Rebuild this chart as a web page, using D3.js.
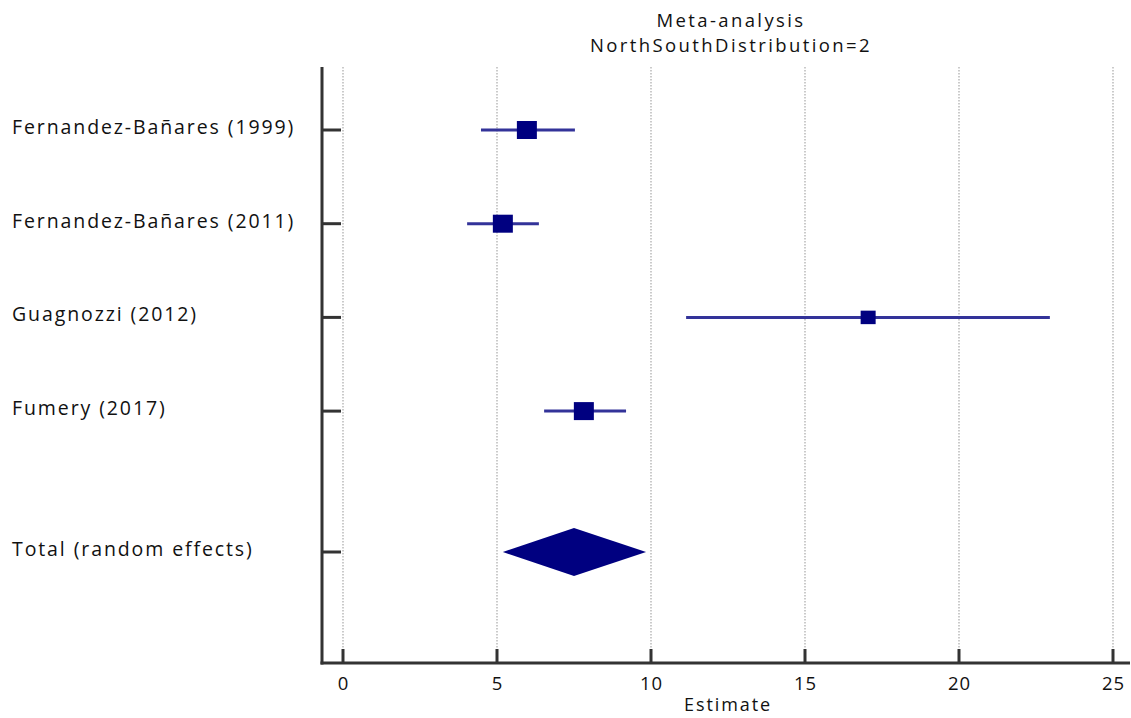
<!DOCTYPE html>
<html>
<head>
<meta charset="utf-8">
<script src="https://cdn.jsdelivr.net/npm/d3@7"></script>
<style>
  html, body { margin: 0; padding: 0; background: #fff; }
  svg { display: block; }
  text { font-family: "Open Sans", "Noto Sans", sans-serif; fill: #111; }
</style>
</head>
<body>
<svg id="chart" width="1131" height="718"></svg>
<script>
// ---- data ----
const studies = ["Fernandez-Bañares (1999)", "Fernandez-Bañares (2011)", "Guagnozzi (2012)", "Fumery (2017)"];
const estimates = [5.97, 5.19, 17.05, 7.82];
const lower = [4.48, 4.03, 11.14, 6.53];
const upper = [7.53, 6.36, 22.95, 9.19];
const weights = [1.0, 1.0, 0.75, 1.0];
const totalLabel = "Total (random effects)";
const totalEstimate = 7.50;
const totalLower = 5.19;
const totalUpper = 9.84;
const xTicks = [0, 5, 10, 15, 20, 25];
const titleLines = ["Meta-analysis", "NorthSouthDistribution=2"];
const xTitle = "Estimate";

// ---- layout ----
const svg = d3.select("#chart");
const plotLeft = 322, plotRight = 1130, plotTop = 67, plotBottom = 663;

const x = d3.scaleLinear().domain([0, 25]).range([343, 1113]);
const rows = [...studies, totalLabel];
const rowY = d => {
  const i = rows.indexOf(d);
  return i < studies.length ? 130 + i * 93.7 : 552;
};

// grid lines
svg.append("g").selectAll("line").data(xTicks).join("line")
  .attr("x1", d => x(d)).attr("x2", d => x(d))
  .attr("y1", plotTop).attr("y2", plotBottom - 2)
  .attr("stroke", "#a8a8a8").attr("stroke-width", 1.2)
  .attr("stroke-dasharray", "1.5,1.5");

// title
svg.append("g").selectAll("text").data(titleLines).join("text")
  .attr("x", 731).attr("y", (d, i) => 27 + i * 25)
  .attr("text-anchor", "middle").attr("font-size", 18.5)
  .style("letter-spacing", "2.4px")
  .text(d => d);

// row labels
svg.append("g").selectAll("text").data(rows).join("text")
  .attr("x", 12).attr("y", d => rowY(d) + 4)
  .attr("font-size", 19.5).style("letter-spacing", "1.9px")
  .text(d => d);

// left axis ticks
svg.append("g").selectAll("line").data(rows).join("line")
  .attr("x1", plotLeft).attr("x2", 341)
  .attr("y1", d => rowY(d)).attr("y2", d => rowY(d))
  .attr("stroke", "#333").attr("stroke-width", 3);

// bottom axis
const xAxis = d3.axisBottom(x).tickValues(xTicks).tickSize(0).tickPadding(14);
const gx = svg.append("g").attr("transform", `translate(0,${plotBottom})`).call(xAxis);
gx.select(".domain").remove();
gx.selectAll("text").attr("font-size", 18.5).style("letter-spacing", "1px")
  .attr("font-family", "'Open Sans', 'Noto Sans', sans-serif").attr("fill", "#111");
svg.append("g").selectAll("line").data(xTicks).join("line")
  .attr("x1", d => x(d)).attr("x2", d => x(d))
  .attr("y1", plotBottom - 14).attr("y2", plotBottom)
  .attr("stroke", "#333").attr("stroke-width", 3);

// axis lines
svg.append("line").attr("x1", plotLeft).attr("x2", plotLeft).attr("y1", plotTop).attr("y2", plotBottom + 1.5)
  .attr("stroke", "#333").attr("stroke-width", 3);
svg.append("line").attr("x1", plotLeft - 1.5).attr("x2", plotRight).attr("y1", plotBottom).attr("y2", plotBottom)
  .attr("stroke", "#333").attr("stroke-width", 3);

// x title
svg.append("text").attr("x", 728).attr("y", 711).attr("text-anchor", "middle")
  .attr("font-size", 18).style("letter-spacing", "1.9px").text(xTitle);

// CI lines
const sdata = studies.map((s, i) => ({ s, est: estimates[i], lo: lower[i], hi: upper[i], w: weights[i] }));
svg.append("g").selectAll("line").data(sdata).join("line")
  .attr("x1", d => x(d.lo)).attr("x2", d => x(d.hi))
  .attr("y1", d => rowY(d.s)).attr("y2", d => rowY(d.s))
  .attr("stroke", "#333399").attr("stroke-width", 3);

// squares
svg.append("g").selectAll("rect").data(sdata).join("rect")
  .attr("x", d => x(d.est) - 10 * d.w).attr("y", d => rowY(d.s) - 9 * d.w)
  .attr("width", d => 20 * d.w).attr("height", d => 18 * d.w)
  .attr("fill", "#000080");

// diamond
const ty = rowY(totalLabel);
svg.append("path")
  .attr("d", `M${x(totalLower)},${ty} L${x(totalEstimate)},${ty - 24} L${x(totalUpper)},${ty} L${x(totalEstimate)},${ty + 24} Z`)
  .attr("fill", "#000080");
</script>
</body>
</html>
